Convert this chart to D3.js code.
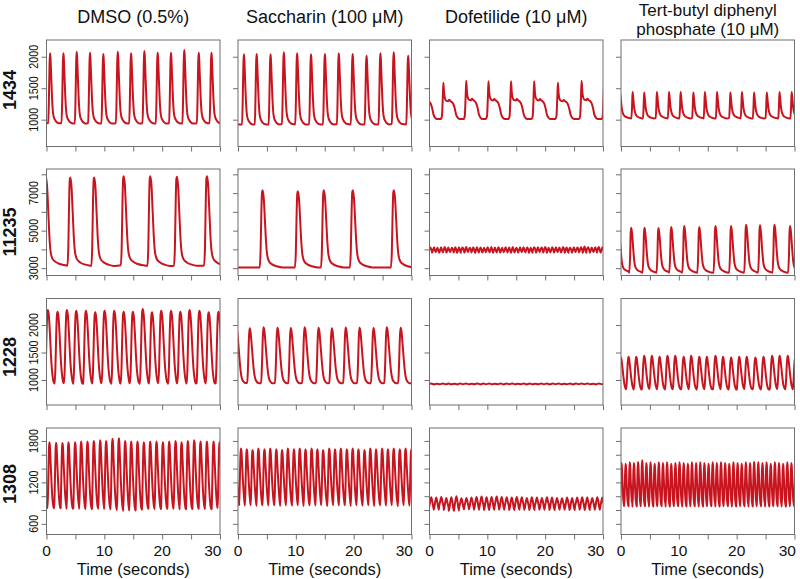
<!DOCTYPE html>
<html><head><meta charset="utf-8">
<script src="https://cdn.jsdelivr.net/npm/d3@7"></script>
<style>
html,body{margin:0;padding:0;background:#fff;}
svg{display:block;font-family:"Liberation Sans",Arial,sans-serif;}
</style></head>
<body><svg id="c" width="800" height="579"></svg>
<script>
// ---------- labels ----------
const columnTitles = [["DMSO (0.5%)"], ["Saccharin (100 \u03bcM)"], ["Dofetilide (10 \u03bcM)"], ["Tert-butyl diphenyl", "phosphate (10 \u03bcM)"]];
const rowLabels = ["1434", "11235", "1228", "1308"];
const xTicks = [0, 5, 10, 15, 20, 25, 30];
const xTickLabels = [0, 10, 20, 30];
const yTicks = [[1000, 1500, 2000], [3000, 4000, 5000, 6000, 7000, 8000], [1000, 1500, 2000], [600, 800, 1000, 1200, 1400, 1600, 1800]];
const yTickLabels = [[1000, 1500, 2000], [3000, 5000, 7000], [1000, 1500, 2000], [600, 1200, 1800]];
const yDomains = [[574, 2266], [2609, 8284], [545, 2482], [446, 1987]];

// ---------- beat data (peak times s, peak values, trough values) ----------
// line 1434
const t1434_dmso = [-1.7, 0.6, 2.9, 5.2, 7.5, 9.8, 12.3, 14.6, 16.9, 19.2, 21.5, 23.8, 26.3, 28.5];
const pk1434_dmso = [2050, 2054, 2054, 2080, 2064, 2043, 2080, 2054, 2091, 2064, 2064, 2107, 2064, 2064];
const tr1434_dmso = [950, 945, 945, 940, 945, 940, 945, 940, 945, 940, 945, 940, 945, 945];
const t1434_sac = [-1.4, 1.0, 3.2, 5.6, 7.9, 10.2, 12.6, 15.0, 17.4, 19.8, 22.2, 24.6, 26.9, 29.4];
const pk1434_sac = [2040, 2038, 2043, 2038, 2070, 2054, 2038, 2043, 2054, 2043, 2017, 2054, 2070, 2017];
const tr1434_sac = [925, 925, 928, 925, 930, 925, 928, 925, 930, 925, 928, 925, 930, 925];
const t1434_dof = [-1.5, 2.4, 6.35, 10.2, 14.1, 18.1, 22.2, 26.3, 30.2];
const pk1434_dof = [1600, 1585, 1617, 1610, 1610, 1610, 1585, 1617, 1600];
const tr1434_dof = [1010, 1012, 1010, 1012, 1010, 1012, 1010, 1012, 1010];
const t1434_tb = [-0.15, 2.0, 4.0, 6.2, 8.3, 10.3, 12.5, 14.5, 16.6, 18.9, 20.9, 23.0, 25.2, 27.4, 29.5];
const pk1434_tb = [1420, 1440, 1430, 1440, 1440, 1440, 1430, 1440, 1440, 1430, 1440, 1430, 1430, 1440, 1440];
const tr1434_tb = [1025, 1020, 1020, 1025, 1020, 1020, 1025, 1020, 1020, 1025, 1020, 1020, 1025, 1020, 1020];
// line 11235
const t11235_dmso = [-0.15, 4.07, 8.2, 13.3, 17.9, 22.5, 27.7];
const pk11235_dmso = [7850, 7834, 7834, 7900, 7900, 7870, 7900];
const tr11235_dmso = [3150, 3130, 3120, 3150, 3120, 3130, 3130];
const t11235_sac = [-6, 4.2, 10.3, 14.8, 19.8, 26.9];
const pk11235_sac = [3040, 7150, 7100, 7150, 7150, 7150];
const tr11235_sac = [3040, 3040, 3040, 3040, 3040, 3040];
const t11235_dof = [0.15,0.78,1.38,2.0,2.62,3.25,3.86,4.48,5.1,5.72,6.35,6.96,7.58,8.2,8.82,9.45,10.06,10.68,11.3,11.92,12.55,13.16,13.78,14.4,15.02,15.65,16.26,16.88,17.5,18.12,18.75,19.36,19.98,20.6,21.22,21.85,22.46,23.08,23.7,24.32,24.95,25.56,26.18,26.8,27.42,28.05,28.66,29.28,29.9];
const pk11235_dof = [4100,4120,4090,4110,4130,4100,4090,4120,4110,4100,4130,4090,4110,4120,4100,4090,4110,4130,4100,4120,4090,4110,4100,4130,4090,4120,4110,4100,4090,4120,4110,4100,4130,4090,4110,4120,4100,4130,4110,4090,4120,4100,4110,4150,4120,4100,4110,4130,4110];
const tr11235_dof = [3840,3830,3850,3820,3840,3830,3850,3840,3820,3840,3830,3850,3840,3820,3840,3830,3850,3840,3820,3840,3830,3850,3840,3820,3840,3830,3850,3840,3820,3840,3830,3850,3840,3820,3840,3830,3850,3840,3820,3840,3830,3850,3840,3820,3840,3830,3850,3840,3830];
const t11235_tb = [-0.45, 1.73, 4.03, 6.45, 8.65, 10.9, 13.5, 16.3, 19.0, 21.6, 24.0, 26.5, 29.2];
const pk11235_tb = [5150, 5158, 5158, 5140, 5194, 5246, 5194, 5246, 5246, 5318, 5283, 5318, 5246];
const tr11235_tb = [2780, 2760, 2760, 2760, 2760, 2760, 2760, 2760, 2760, 2760, 2760, 2760, 2760];
// line 1228
const t1228_dmso = [-1.45, 0.2, 1.87, 3.49, 5.10, 6.78, 8.39, 10.0, 11.68, 13.3, 14.9, 16.6, 18.2, 19.8, 21.5, 23.1, 24.7, 26.4, 28.0, 29.7];
const pk1228_dmso = [2260, 2273, 2242, 2273, 2261, 2261, 2230, 2261, 2261, 2242, 2242, 2291, 2230, 2261, 2261, 2242, 2273, 2261, 2230, 2242];
const tr1228_dmso = [940, 940, 935, 945, 930, 940, 935, 945, 930, 935, 940, 930, 935, 945, 930, 940, 935, 940, 935, 940];
const t1228_sac = [-0.3, 2.0, 4.4, 6.8, 9.1, 11.5, 13.9, 16.2, 18.6, 21.0, 23.4, 25.7, 28.1, 30.5];
const pk1228_sac = [1950, 1940, 1960, 1950, 1945, 1960, 1950, 1940, 1955, 1950, 1945, 1960, 1950, 1950];
const tr1228_sac = [945, 945, 940, 945, 940, 945, 940, 945, 940, 945, 940, 945, 940, 945];
const t1228_dof = [0.3,1.3,2.3,3.3,4.3,5.3,6.3,7.3,8.3,9.3,10.3,11.3,12.3,13.3,14.3,15.3,16.3,17.3,18.3,19.3,20.3,21.3,22.3,23.3,24.3,25.3,26.3,27.3,28.3,29.3,30.3];
const pk1228_dof = [935,932,936,934,933,937,935,932,936,934,935,933,936,934,935,932,936,935,933,937,935,934,936,933,935,934,936,935,933,936,935];
const tr1228_dof = [922,920,923,921,922,920,923,921,922,920,923,921,922,920,923,921,922,920,923,921,922,920,923,921,922,920,923,921,922,920,922];
const t1228_tb = [-0.05, 1.27, 2.6, 3.98, 5.3, 6.63, 8.0, 9.34, 10.8, 12.1, 13.5, 14.8, 16.3, 17.6, 19.0, 20.4, 21.7, 23.2, 24.6, 26.1, 27.4, 28.8, 30.1];
const pk1228_tb = [1410, 1424, 1424, 1440, 1440, 1424, 1440, 1440, 1424, 1440, 1424, 1424, 1440, 1424, 1410, 1424, 1424, 1410, 1424, 1440, 1440, 1440, 1420];
const tr1228_tb = [830, 830, 825, 830, 835, 830, 825, 830, 835, 830, 825, 830, 835, 830, 825, 830, 835, 830, 825, 830, 835, 830, 830];
// line 1308
const t1308_dmso = [-0.6, 0.49, 1.64, 2.74, 3.78, 4.93, 5.97, 7.06, 8.16, 9.26, 10.29, 11.39, 12.49, 13.58, 14.62, 15.71, 16.81, 17.91, 19.0, 20.1, 21.19, 22.29, 23.33, 24.42, 25.52, 26.61, 27.71, 28.86, 29.9];
const pk1308_dmso = [1775, 1780, 1775, 1770, 1780, 1780, 1790, 1790, 1800, 1810, 1800, 1830, 1840, 1800, 1790, 1790, 1780, 1790, 1790, 1780, 1790, 1800, 1780, 1800, 1810, 1790, 1790, 1790, 1780];
const tr1308_dmso = [830, 830, 825, 830, 820, 830, 820, 815, 825, 820, 815, 810, 800, 790, 795, 805, 820, 825, 815, 820, 825, 820, 810, 815, 820, 825, 815, 820, 830];
const t1308_sac = [-0.5, 0.5, 1.5, 2.5, 3.5, 4.55, 5.55, 6.6, 7.6, 8.6, 9.65, 10.65, 11.65, 12.7, 13.7, 14.7, 15.75, 16.75, 17.75, 18.8, 19.8, 20.8, 21.85, 22.85, 23.85, 24.9, 25.9, 26.9, 27.95, 28.95, 29.95];
const pk1308_sac = [1680, 1690, 1680, 1670, 1690, 1680, 1690, 1680, 1670, 1690, 1680, 1690, 1680, 1690, 1680, 1670, 1690, 1680, 1690, 1680, 1690, 1680, 1670, 1690, 1680, 1690, 1680, 1690, 1680, 1690, 1680];
const tr1308_sac = [870, 870, 865, 870, 860, 870, 865, 870, 860, 870, 865, 870, 860, 870, 865, 870, 860, 870, 865, 870, 860, 870, 865, 870, 860, 870, 865, 870, 860, 870, 865];
const t1308_dof = [0.3, 1.17, 2.04, 2.91, 3.78, 4.65, 5.52, 6.39, 7.26, 8.13, 9.0, 9.87, 10.74, 11.61, 12.48, 13.35, 14.22, 15.09, 15.96, 16.83, 17.7, 18.57, 19.44, 20.31, 21.18, 22.05, 22.92, 23.79, 24.66, 25.53, 26.4, 27.27, 28.14, 29.01, 29.88];
const pk1308_dof = [985, 980, 990, 975, 985, 1000, 970, 975, 980, 990, 995, 985, 990, 995, 990, 985, 980, 990, 985, 975, 985, 980, 975, 985, 980, 975, 970, 980, 975, 980, 985, 980, 975, 985, 980];
const tr1308_dof = [810, 805, 815, 800, 790, 795, 810, 815, 810, 805, 810, 800, 805, 810, 805, 810, 800, 805, 810, 805, 800, 810, 805, 810, 800, 805, 810, 805, 800, 810, 805, 800, 810, 805, 810];
const t1308_tb = [0.05, 0.77, 1.49, 2.2, 2.92, 3.63, 4.35, 5.07, 5.78, 6.5, 7.22, 7.93, 8.65, 9.37, 10.08, 10.8, 11.52, 12.23, 12.95, 13.67, 14.38, 15.1, 15.82, 16.53, 17.25, 17.97, 18.68, 19.4, 20.12, 20.83, 21.55, 22.27, 22.98, 23.7, 24.42, 25.13, 25.85, 26.57, 27.28, 28.0, 28.72, 29.43, 30.15];
const pk1308_tb = [1480, 1470, 1490, 1480, 1495, 1520, 1480, 1490, 1470, 1490, 1480, 1490, 1470, 1480, 1490, 1480, 1470, 1490, 1480, 1490, 1480, 1470, 1490, 1480, 1490, 1480, 1470, 1490, 1480, 1470, 1490, 1480, 1500, 1490, 1480, 1490, 1470, 1490, 1480, 1470, 1490, 1480, 1480];
const tr1308_tb = [860, 855, 865, 850, 860, 855, 865, 850, 860, 855, 865, 850, 860, 855, 865, 850, 860, 855, 865, 850, 860, 855, 865, 850, 860, 855, 865, 850, 860, 855, 865, 850, 860, 855, 865, 850, 860, 855, 865, 850, 860, 855, 860];

// ---------- beat waveforms: [seconds from peak, fraction of trough->peak] ----------
const shape1434 = [[-0.3,0],[-0.18,0.35],[-0.07,0.85],[0,1],[0.08,0.95],[0.2,0.7],[0.35,0.38],[0.5,0.17],[0.65,0.09],[0.85,0.05],[1.1,0.02],[1.5,0],[6,0]];
const shapeDof1434 = [[-0.45,0],[-0.25,0.08],[-0.1,0.6],[0,1],[0.12,0.72],[0.3,0.55],[0.55,0.5],[0.8,0.49],[1.0,0.53],[1.2,0.5],[1.45,0.47],[1.7,0.42],[1.95,0.3],[2.2,0.12],[2.5,0.03],[2.8,0],[6,0]];
const shapeTb1434 = [[-0.2,0],[-0.08,0.5],[0,1],[0.1,0.82],[0.25,0.45],[0.4,0.25],[0.6,0.13],[0.9,0.06],[1.3,0.02],[1.7,0],[6,0]];
const shape11235 = [[-0.45,0],[-0.3,0.2],[-0.15,0.75],[-0.05,0.97],[0.05,1],[0.25,0.9],[0.45,0.62],[0.65,0.33],[0.85,0.16],[1.15,0.08],[1.7,0.04],[2.5,0.015],[3.5,0],[12,0]];
const shapeTb11235 = [[-0.3,0],[-0.15,0.4],[-0.05,0.9],[0.05,1],[0.2,0.85],[0.4,0.5],[0.6,0.22],[0.85,0.1],[1.2,0.05],[1.7,0.02],[2.3,0],[6,0]];
const shapeZig = [[-0.31,0],[0,1],[0.31,0]];
const shape1228 = [[-0.45,0],[-0.32,0.25],[-0.18,0.72],[-0.06,0.96],[0.05,1],[0.2,0.93],[0.38,0.7],[0.55,0.42],[0.72,0.2],[0.9,0.07],[1.05,0.01],[1.2,0]];
const shapeSac1228 = [[-0.4,0],[-0.25,0.35],[-0.1,0.85],[0,1],[0.15,0.95],[0.35,0.72],[0.55,0.45],[0.75,0.22],[0.95,0.09],[1.2,0.03],[1.5,0],[6,0]];
const shapeFlat = [[-0.5,0],[0,1],[0.5,0]];
const shapeTb1228 = [[-0.38,0],[-0.25,0.3],[-0.12,0.78],[0,1],[0.12,0.95],[0.3,0.68],[0.48,0.38],[0.65,0.15],[0.82,0.04],[0.98,0]];
const shape1308 = [[-0.3,0],[-0.18,0.45],[-0.07,0.9],[0,1],[0.08,0.97],[0.22,0.7],[0.38,0.38],[0.55,0.13],[0.7,0.02],[0.78,0],[2,0]];
const shapeDof1308 = [[-0.43,0],[-0.2,0.6],[0,1],[0.2,0.6],[0.43,0]];
const shapeTb1308 = [[-0.2,0],[-0.1,0.55],[0,1],[0.08,0.95],[0.2,0.55],[0.35,0.15],[0.5,0],[2,0]];

// ---------- panel table ----------
const panels = [
  {r:0,c:0,t:t1434_dmso,pk:pk1434_dmso,tr:tr1434_dmso,s:shape1434},
  {r:0,c:1,t:t1434_sac,pk:pk1434_sac,tr:tr1434_sac,s:shape1434},
  {r:0,c:2,t:t1434_dof,pk:pk1434_dof,tr:tr1434_dof,s:shapeDof1434},
  {r:0,c:3,t:t1434_tb,pk:pk1434_tb,tr:tr1434_tb,s:shapeTb1434},
  {r:1,c:0,t:t11235_dmso,pk:pk11235_dmso,tr:tr11235_dmso,s:shape11235},
  {r:1,c:1,t:t11235_sac,pk:pk11235_sac,tr:tr11235_sac,s:shape11235},
  {r:1,c:2,t:t11235_dof,pk:pk11235_dof,tr:tr11235_dof,s:shapeZig},
  {r:1,c:3,t:t11235_tb,pk:pk11235_tb,tr:tr11235_tb,s:shapeTb11235},
  {r:2,c:0,t:t1228_dmso,pk:pk1228_dmso,tr:tr1228_dmso,s:shape1228},
  {r:2,c:1,t:t1228_sac,pk:pk1228_sac,tr:tr1228_sac,s:shapeSac1228},
  {r:2,c:2,t:t1228_dof,pk:pk1228_dof,tr:tr1228_dof,s:shapeFlat},
  {r:2,c:3,t:t1228_tb,pk:pk1228_tb,tr:tr1228_tb,s:shapeTb1228},
  {r:3,c:0,t:t1308_dmso,pk:pk1308_dmso,tr:tr1308_dmso,s:shape1308},
  {r:3,c:1,t:t1308_sac,pk:pk1308_sac,tr:tr1308_sac,s:shape1308},
  {r:3,c:2,t:t1308_dof,pk:pk1308_dof,tr:tr1308_dof,s:shapeDof1308},
  {r:3,c:3,t:t1308_tb,pk:pk1308_tb,tr:tr1308_tb,s:shapeTb1308}
];

function tracePoints(p) {
  const pts = [];
  const n = p.t.length;
  for (let i = 0; i < n; i++) {
    const nextOnset = i < n - 1 ? p.t[i + 1] + p.s[0][0] : Infinity;
    for (const [dt, f] of p.s) {
      const t = p.t[i] + dt;
      if (t >= nextOnset) break;
      if (pts.length && t <= pts[pts.length - 1][0]) continue;
      pts.push([t, p.tr[i] + f * (p.pk[i] - p.tr[i])]);
    }
  }
  return pts;
}

// ---------- layout ----------
const colLeft = [46.5, 238, 429.5, 621];
const panelW = 173.5;
const rowTop = [40, 169, 298.5, 428];
const panelH = 106.5;
const rowLabelY = [90, 232, 357, 484];
const frameColor = "#6f6f6f";
const traceColor = "#c8141e";

const svg = d3.select("#c");

columnTitles.forEach((lines, c) => {
  const cx = colLeft[c] + panelW / 2;
  const multi = lines.length > 1;
  const base = multi ? 15.5 : 23;
  lines.forEach((s, k) => {
    svg.append("text").attr("x", cx).attr("y", base + k * 19.5)
      .attr("text-anchor", "middle").attr("font-size", multi ? 17 : 18).attr("fill", "#111").text(s);
  });
});

rowLabels.forEach((s, r) => {
  svg.append("text").attr("transform", `translate(15.5,${rowLabelY[r]}) rotate(-90)`)
    .attr("text-anchor", "middle").attr("font-size", 18).attr("font-weight", "bold")
    .attr("fill", "#111").text(s);
});

panels.forEach((p, idx) => {
  const x0 = colLeft[p.c], y0 = rowTop[p.r];
  const x = d3.scaleLinear().domain([0, 30]).range([x0, x0 + panelW]);
  const y = d3.scaleLinear().domain(yDomains[p.r]).range([y0 + panelH, y0]);
  const g = svg.append("g");

  const clipId = "clip" + idx;
  svg.append("clipPath").attr("id", clipId).append("rect")
    .attr("x", x0).attr("y", y0).attr("width", panelW).attr("height", panelH);

  // x axis (ticks only; labels placed below)
  const xa = g.append("g").attr("transform", `translate(0,${y0 + panelH})`)
    .call(d3.axisBottom(x).tickValues(xTicks).tickSize(5).tickSizeOuter(0).tickFormat(""));
  xa.select(".domain").remove();
  xa.selectAll(".tick line").attr("stroke", frameColor);
  if (p.r === 3) {
    xTickLabels.forEach(v => {
      const last = v === 30;
      g.append("text").attr("x", x(v) + (last ? 1.5 : 0)).attr("y", 555.5)
        .attr("text-anchor", last ? "end" : "middle").attr("font-size", 15.5).attr("fill", "#111").text(v);
    });
  }

  // y axis
  const ya = g.append("g").attr("transform", `translate(${x0},0)`)
    .call(d3.axisLeft(y).tickValues(yTicks[p.r]).tickSize(5).tickSizeOuter(0).tickFormat(""));
  ya.select(".domain").remove();
  ya.selectAll(".tick line").attr("stroke", frameColor);
  if (p.c === 0) {
    yTickLabels[p.r].forEach(v => {
      g.append("text").attr("transform", `translate(${x0 - 9},${y(v)}) rotate(-90) scale(0.8,1)`)
        .attr("text-anchor", "middle").attr("font-size", 13.5).attr("fill", "#111").text(v);
    });
  }

  // trace
  const line = d3.line().x(d => x(d[0])).y(d => y(d[1])).curve(d3.curveMonotoneX);
  g.append("path").datum(tracePoints(p)).attr("clip-path", `url(#${clipId})`)
    .attr("d", line).attr("fill", "none").attr("stroke", traceColor)
    .attr("stroke-width", 2).attr("stroke-linejoin", "round");

  // frame
  g.append("rect").attr("x", x0).attr("y", y0).attr("width", panelW).attr("height", panelH)
    .attr("fill", "none").attr("stroke", frameColor).attr("stroke-width", 1);

  if (p.r === 3) {
    g.append("text").attr("x", x0 + panelW / 2).attr("y", 574.5).attr("text-anchor", "middle")
      .attr("font-size", 16.5).attr("fill", "#111").text("Time (seconds)");
  }
});
</script></body></html>
